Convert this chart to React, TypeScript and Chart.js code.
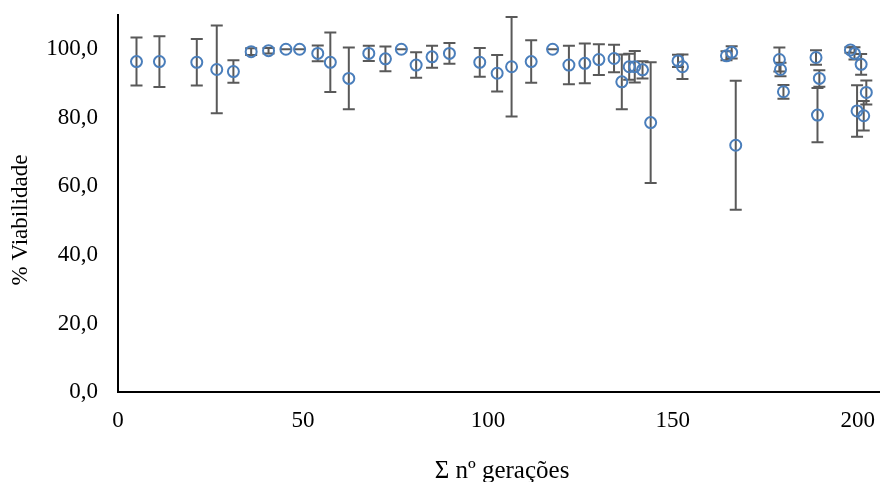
import React, { useEffect, useRef } from "react";
import { Chart, registerables } from "chart.js";

Chart.register(...registerables);

const generations = [
  5.0, 11.2, 21.3, 26.7, 31.2, 36.0, 40.7, 45.4, 49.1, 54.0,
  57.4, 62.4, 67.8, 72.3, 76.6, 80.6, 84.9, 89.6, 97.8, 102.5,
  106.4, 111.7, 117.5, 121.9, 126.2, 130.0, 134.1, 136.2, 138.2, 139.7,
  141.8, 144.0, 151.4, 152.6, 164.5, 165.9, 167.0, 178.8, 179.1, 179.9,
  188.7, 189.6, 189.1, 198.0, 199.1, 200.9, 199.8, 201.6, 202.3,
];

const viability = [
  96.4, 96.4, 96.2, 94.1, 93.5, 99.3, 99.6, 100, 100, 98.8,
  96.2, 91.5, 98.8, 97.2, 100, 95.4, 97.8, 98.8, 96.2, 93.0,
  94.9, 96.4, 100, 95.4, 95.9, 97.0, 97.3, 90.5, 94.9, 94.9,
  94.0, 78.6, 96.6, 94.9, 98.1, 99.1, 72.0, 97.0, 94.1, 87.6,
  97.6, 91.5, 80.8, 99.8, 98.8, 95.6, 82.0, 80.6, 87.4,
];

const errors = [
  7.0, 7.4, 6.8, 12.8, 3.3, 1.0, 0.8, 0, 0, 2.3,
  8.7, 9.0, 2.2, 3.6, 0, 3.7, 3.2, 3.0, 4.2, 5.3,
  14.5, 6.2, 0, 5.6, 5.8, 4.5, 4.0, 8.0, 3.8, 4.6,
  2.5, 17.6, 1.8, 3.6, 1.3, 1.8, 18.8, 3.5, 2.0, 2.0,
  2.1, 2.4, 7.9, 0.8, 1.8, 3.0, 7.5, 4.3, 3.5,
];

const xTitle = "Σ nº gerações";
const yTitle = "% Viabilidade";

const FONT = "'Liberation Serif', 'Times New Roman', serif";

const errorBarPlugin = {
  id: "errorBars",
  beforeDatasetsDraw(chart: any) {
    const { ctx, scales } = chart;
    const xs = scales.x;
    const ys = scales.y;
    ctx.save();
    ctx.strokeStyle = "#595959";
    ctx.lineWidth = 2;
    const cap = 6;
    for (let i = 0; i < generations.length; i++) {
      const px = xs.getPixelForValue(generations[i]);
      const top = ys.getPixelForValue(viability[i] + errors[i]);
      const bot = ys.getPixelForValue(viability[i] - errors[i]);
      ctx.beginPath();
      ctx.moveTo(px, top);
      ctx.lineTo(px, bot);
      ctx.moveTo(px - cap, top);
      ctx.lineTo(px + cap, top);
      ctx.moveTo(px - cap, bot);
      ctx.lineTo(px + cap, bot);
      ctx.stroke();
    }
    ctx.restore();
  },
};

const titlesPlugin = {
  id: "axisTitles",
  afterDraw(chart: any) {
    const { ctx } = chart;
    ctx.save();
    ctx.fillStyle = "#000";
    ctx.textAlign = "center";
    ctx.textBaseline = "alphabetic";
    ctx.font = `25px ${FONT}`;
    ctx.fillText(xTitle, 502, 478);
    ctx.font = `23px ${FONT}`;
    ctx.translate(27, 220);
    ctx.rotate(-Math.PI / 2);
    ctx.fillText(yTitle, 0, 0);
    ctx.restore();
  },
};

export default function App() {
  const ref = useRef<HTMLCanvasElement>(null);

  useEffect(() => {
    if (!ref.current) return;
    const chart = new Chart(ref.current, {
      type: "scatter",
      data: {
        datasets: [
          {
            data: generations.map((g, i) => ({ x: g, y: viability[i] })),
            pointStyle: "circle",
            pointRadius: 5.5,
            pointBorderWidth: 2,
            pointBorderColor: "#4a7ebb",
            pointBackgroundColor: "rgba(0,0,0,0)",
            pointHoverRadius: 5.5,
            clip: false,
          },
        ],
      },
      options: {
        animation: false,
        responsive: false,
        layout: { autoPadding: false, padding: { top: 15, right: 0, left: 0, bottom: 0 } },
        plugins: {
          legend: { display: false },
          tooltip: { enabled: false },
        },
        scales: {
          x: {
            type: "linear",
            min: 0,
            max: 206,
            grid: { display: false, drawTicks: false },
            border: { display: true, color: "#000", width: 2 },
            ticks: {
              stepSize: 50,
              includeBounds: false,
              padding: 15,
              color: "#000",
              font: { family: FONT, size: 23 },
              maxRotation: 0,
            },
            afterFit(scale: any) {
              scale.height = 90;
              scale.paddingLeft = 0;
              scale.paddingRight = 0;
            },
          },
          y: {
            type: "linear",
            min: 0,
            max: 110,
            grid: { display: false, drawTicks: false },
            border: { display: true, color: "#000", width: 2 },
            ticks: {
              stepSize: 20,
              includeBounds: false,
              padding: 20,
              color: "#000",
              font: { family: FONT, size: 23 },
              callback: (v: any) => Number(v).toFixed(1).replace(".", ","),
            },
            afterFit(scale: any) {
              scale.width = 118;
              scale.paddingTop = 0;
              scale.paddingBottom = 0;
            },
          },
        },
      },
      plugins: [errorBarPlugin, titlesPlugin],
    });
    return () => chart.destroy();
  }, []);

  return (
    <div style={{ position: "fixed", left: 0, top: 0, width: 880, height: 482, background: "#fff" }}>
      <canvas ref={ref} width={880} height={482} style={{ display: "block" }} />
    </div>
  );
}
